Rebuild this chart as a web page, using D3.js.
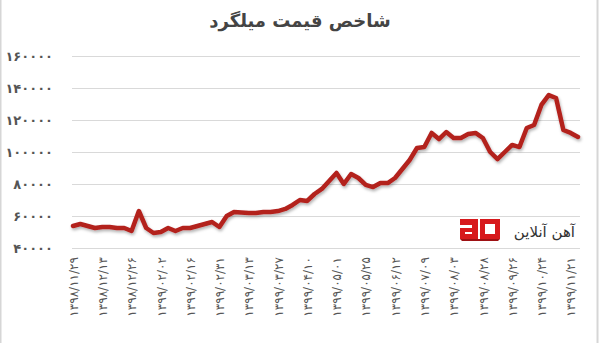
<!DOCTYPE html>
<html>
<head>
<meta charset="utf-8">
<style>
  body { margin: 0; background: white; }
  svg { display: block; }
  .title { font: bold 18px "DejaVu Sans", sans-serif; fill: #444; }
  .ylab { font: bold 13px "DejaVu Sans", sans-serif; fill: #555; }
  .xlab { font: 12px "DejaVu Sans", sans-serif; fill: #555; }
  .brand { font: 15px "DejaVu Sans", sans-serif; fill: #333; }
</style>
</head>
<body>
<svg id="chart" width="600" height="343"></svg>
<script src="https://d3js.org/d3.v7.min.js"></script>
<script>
// rebar price index, one value per trading day
var values = [
  53750, 55000, 53750, 52500, 53125, 53125, 52500, 52500, 50625, 63125,
  52500, 49375, 50000, 52500, 50625, 52500, 52500, 53750, 55000, 56250,
  53125, 60000, 62500, 62200, 61900, 61900, 62500, 62500, 63100, 64400,
  66900, 70000, 69400, 73750, 76900, 81900, 86900, 80000, 86250, 83750,
  79400, 78100, 80600, 80600, 83750, 89400, 95000, 102500, 103100, 111900,
  108100, 112500, 108750, 108750, 111250, 111900, 108750, 100000, 95600, 100000,
  104400, 103100, 115000, 116900, 129400, 135600, 133750, 113750, 111900, 109400
];
// date label on every 4th point
var dateLabels = [
  "1398/11/29", "1398/12/13", "1398/12/26", "1399/02/02", "1399/02/16", "1399/02/31",
  "1399/03/13", "1399/03/27", "1399/04/10", "1399/05/01", "1399/05/25", "1399/06/12",
  "1399/07/09", "1399/08/03", "1399/08/28", "1399/09/26", "1399/10/24", "1399/11/21"
];
var labelStep = 4;
var yTicks = [40000, 60000, 80000, 100000, 120000, 140000, 160000];
var title = "شاخص قیمت میلگرد";
var brand = "آهن آنلاین";

var fa = "۰۱۲۳۴۵۶۷۸۹";
function toFa(s) {
  return String(s).replace(/[0-9]/g, function(c) { return fa[+c]; });
}

var svg = d3.select("#chart");

svg.append("rect")
  .attr("x", 0.5).attr("y", -1)
  .attr("width", 597).attr("height", 345)
  .attr("fill", "white")
  .attr("stroke", "#d6d6d6")
  .attr("stroke-width", 2);

var x = d3.scalePoint()
  .domain(d3.range(values.length))
  .range([73, 578]);

var y = d3.scaleLinear()
  .domain([40000, 160000])
  .range([248, 56]);

// title
svg.append("text")
  .attr("class", "title")
  .attr("x", 300).attr("y", 27)
  .attr("text-anchor", "middle")
  .text(title);

// grid
svg.append("g")
  .selectAll("line")
  .data(yTicks)
  .join("line")
  .attr("x1", 72).attr("x2", 580)
  .attr("y1", function(d) { return Math.round(y(d)) + 0.5; })
  .attr("y2", function(d) { return Math.round(y(d)) + 0.5; })
  .attr("stroke", "#d9d9d9");

// y labels
var yAxis = d3.axisLeft(y)
  .tickValues(yTicks)
  .tickSize(0)
  .tickPadding(0)
  .tickFormat(function(d) { return toFa(d); });

var gy = svg.append("g")
  .attr("transform", "translate(53,0)")
  .call(yAxis);
gy.select(".domain").remove();
gy.selectAll("text").attr("class", "ylab").attr("font-size", null).attr("font-family", null).attr("fill", null);

// x labels
var xAxis = d3.axisBottom(x)
  .tickValues(dateLabels.map(function(d, i) { return i * labelStep; }))
  .tickSize(0)
  .tickFormat(function(d) { return toFa(dateLabels[d / labelStep]); });

var gx = svg.append("g")
  .attr("transform", "translate(0,257)")
  .call(xAxis);
gx.select(".domain").remove();
gx.selectAll("text")
  .attr("class", "xlab")
  .attr("font-size", null).attr("font-family", null).attr("fill", null)
  .attr("transform", "rotate(-90)")
  .attr("x", 0).attr("y", 0).attr("dy", "0.35em")
  .attr("text-anchor", "end")
  .attr("direction", "ltr");

// shadow for the line
var defs = svg.append("defs");
var f = defs.append("filter").attr("id", "sh")
  .attr("x", "-5%").attr("y", "-20%").attr("width", "110%").attr("height", "140%");
f.append("feDropShadow")
  .attr("dx", 1).attr("dy", 2).attr("stdDeviation", 1.5)
  .attr("flood-color", "#000").attr("flood-opacity", 0.3);

var line = d3.line()
  .x(function(d, i) { return x(i); })
  .y(function(d) { return y(d); });

svg.append("path")
  .datum(values)
  .attr("d", line)
  .attr("fill", "none")
  .attr("stroke", "#b3201f")
  .attr("stroke-width", 4.5)
  .attr("stroke-linejoin", "round")
  .attr("stroke-linecap", "round")
  .attr("filter", "url(#sh)");

// logo
var logo = svg.append("g").attr("transform", "translate(460,219)");
logo.append("path")
  .attr("d", "M0,0 H18 V20 H0 V9 H12 V6 H0 Z M5,13 V15 H12 V13 Z")
  .attr("fill", "#d7191c").attr("fill-rule", "evenodd");
logo.append("path")
  .attr("d", "M20,0 H40 V20 H20 Z M25,5 V15 H35 V5 Z")
  .attr("fill", "#d7191c").attr("fill-rule", "evenodd");
logo.append("path")
  .attr("d", "M0,20 H40 L38,22 H2 Z")
  .attr("fill", "#9e1114");

svg.append("text")
  .attr("class", "brand")
  .attr("x", 575).attr("y", 237)
  .attr("text-anchor", "end")
  .text(brand);
</script>
</body>
</html>
